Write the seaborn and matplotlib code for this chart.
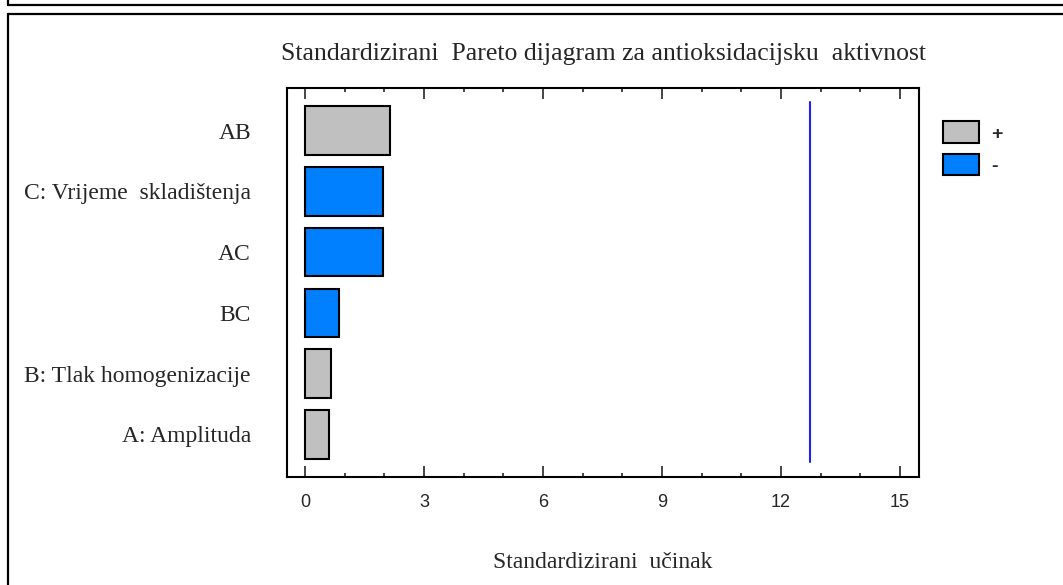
import numpy as np
import matplotlib
matplotlib.use('Agg')
import matplotlib.pyplot as plt
from matplotlib.lines import Line2D
from matplotlib.patches import Patch
from matplotlib.ticker import MultipleLocator
import seaborn as sns

# Chart data
effects = ['AB', 'C: Vrijeme  skladištenja', 'AC', 'BC',
           'B: Tlak homogenizacije', 'A: Amplituda']
std_effect = [2.15, 1.97, 1.98, 0.86, 0.67, 0.61]
signs = ['+', '-', '-', '-', '+', '+']
critical_value = 12.73
x_ticks = [0, 3, 6, 9, 12, 15]

sns.set_style('white')
serif = ['Liberation Serif', 'DejaVu Serif']
sans = ['Liberation Sans', 'DejaVu Sans']

colors = {'+': '#c0c0c0', '-': '#0080ff'}

fig = plt.figure(figsize=(10.63, 5.85), dpi=100)
ax = fig.add_axes([0.270, 0.1846, 0.5946, 0.665])

sns.barplot(x=std_effect, y=effects, hue=signs, palette=colors, dodge=False,
            width=0.8, edgecolor='black', linewidth=1.5, legend=False,
            saturation=1, orient='h', ax=ax)

ax.axvline(critical_value, ymin=0.039, ymax=0.964, color='#2020ff', lw=1.5)

ax.set_xlim(-0.45, 15.48)
ax.set_ylim(5.7, -0.7)
ax.set_xticks(x_ticks)
ax.xaxis.set_minor_locator(MultipleLocator(1))
ax.tick_params(axis='x', which='major', direction='in', length=8, width=1.2,
               top=True, bottom=True, pad=12)
ax.tick_params(axis='x', which='minor', direction='in', length=3, width=1.2,
               top=True, bottom=True)
ax.tick_params(axis='y', length=0, pad=26)
for lab in ax.get_xticklabels():
    lab.set_family(sans)
    lab.set_fontsize(13)
for lab in ax.get_yticklabels():
    lab.set_family(serif)
    lab.set_fontsize(17)

for sp in ax.spines.values():
    sp.set_visible(True)
    sp.set_color('black')
    sp.set_linewidth(1.5)

ax.set_xlabel('Standardizirani  učinak', family=serif, fontsize=17, labelpad=30)
ax.set_ylabel('')
ax.set_title('Standardizirani  Pareto dijagram za antioksidacijsku  aktivnost',
             family=serif, fontsize=18.5, pad=20)

handles = [Patch(facecolor=colors['+'], edgecolor='black', lw=1.5, label='+'),
           Patch(facecolor=colors['-'], edgecolor='black', lw=1.5, label='-')]
fig.legend(handles=handles, loc='upper left', bbox_to_anchor=(0.8702, 0.8224),
           frameon=False, handlelength=1.9, handleheight=1.3,
           labelspacing=0.57, handletextpad=0.6,
           prop={'family': sans, 'size': 14, 'weight': 'bold'})

# outer frame lines like the original screenshot
lw = 1.6
fig.add_artist(Line2D([8 / 1063, 1], [1 - 5 / 585, 1 - 5 / 585], color='black', lw=lw))
fig.add_artist(Line2D([8 / 1063, 8 / 1063], [1 - 5 / 585, 1], color='black', lw=lw))
fig.add_artist(Line2D([8 / 1063, 1], [1 - 14 / 585, 1 - 14 / 585], color='black', lw=lw))
fig.add_artist(Line2D([8 / 1063, 8 / 1063], [0, 1 - 14 / 585], color='black', lw=lw))

fig.savefig('out.png', dpi=100)
